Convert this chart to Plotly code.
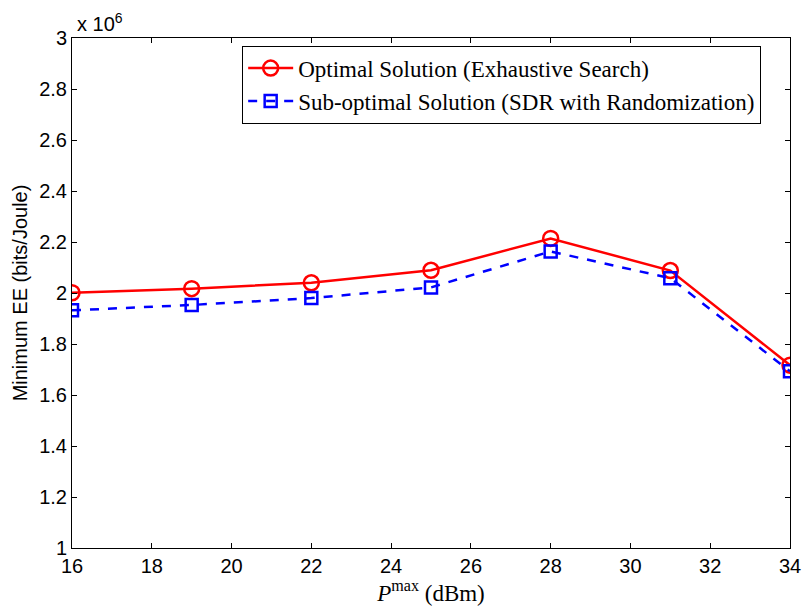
import plotly.graph_objects as go

# Maximum transmit power (dBm)
p_max = [16, 19, 22, 25, 28, 31, 34]

# Minimum energy efficiency (x 1e6 bits/Joule)
ee_optimal = [2.001, 2.017, 2.040, 2.089, 2.214, 2.088, 1.717]
ee_sdr = [1.932, 1.953, 1.980, 2.022, 2.163, 2.058, 1.693]

name_optimal = "Optimal Solution (Exhaustive Search)"
name_sdr = "Sub-optimal Solution (SDR with Randomization)"

x_ticks = [16, 18, 20, 22, 24, 26, 28, 30, 32, 34]
y_ticks = [1, 1.2, 1.4, 1.6, 1.8, 2, 2.2, 2.4, 2.6, 2.8, 3]
y_tick_text = ["1", "1.2", "1.4", "1.6", "1.8", "2", "2.2", "2.4", "2.6", "2.8", "3"]

sans = "Liberation Sans, Arial, Helvetica, sans-serif"
serif = "Liberation Serif, Times New Roman, serif"

fig = go.Figure()
fig.add_trace(go.Scatter(
    x=p_max, y=ee_optimal, name=name_optimal, mode="lines+markers",
    line=dict(color="#ff0000", width=2.5),
    marker=dict(symbol="circle-open", size=15, color="#ff0000", line=dict(width=2.5)),
))
fig.add_trace(go.Scatter(
    x=p_max, y=ee_sdr, name=name_sdr, mode="lines+markers",
    line=dict(color="#0000ff", width=2.5, dash="dash"),
    marker=dict(symbol="square-open", size=12, color="#0000ff", line=dict(width=2.5)),
))

axis_common = dict(
    showgrid=False, zeroline=False, showline=True, linecolor="black", linewidth=1,
    mirror="ticks", ticks="inside", ticklen=5, tickcolor="black", automargin=False,
    tickfont=dict(family=sans, size=20, color="black"),
)

fig.update_xaxes(range=[16, 34], tickvals=x_ticks,
                 title=dict(text="<i>P</i><sup>max</sup> (dBm)",
                            font=dict(family=serif, size=23, color="black"), standoff=4),
                 **axis_common)
fig.update_yaxes(range=[1, 3], tickvals=y_ticks, ticktext=y_tick_text,
                 title=dict(text="Minimum EE (bits/Joule)",
                            font=dict(family=sans, size=20, color="black"), standoff=6),
                 **axis_common)

fig.add_annotation(
    x=0, y=1, xref="paper", yref="paper", xanchor="left", yanchor="bottom",
    xshift=3, yshift=1, showarrow=False,
    text="x 10<sup>6</sup>", font=dict(family=sans, size=20, color="black"),
)

fig.update_layout(
    width=806, height=606,
    margin=dict(l=72, r=16, t=38, b=58, autoexpand=False),
    plot_bgcolor="white", paper_bgcolor="white",
    legend=dict(
        x=0.237, y=0.985, xanchor="left", yanchor="top",
        bordercolor="black", borderwidth=1, bgcolor="white",
        font=dict(family=serif, size=23, color="black"),
        tracegroupgap=0, itemwidth=45,
    ),
)

fig.write_html("out.html")
